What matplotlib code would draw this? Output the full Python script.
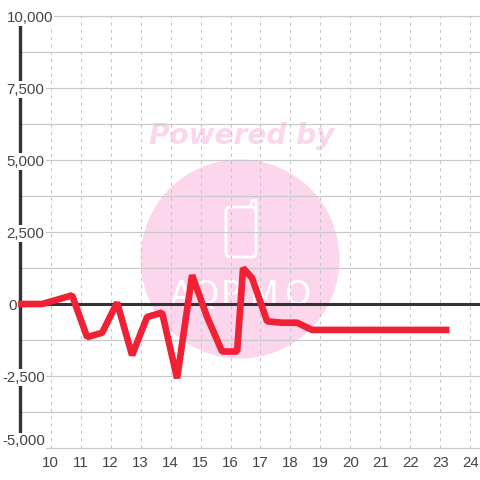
import matplotlib
matplotlib.use("Agg")
import matplotlib.pyplot as plt
from matplotlib.patches import Circle, FancyBboxPatch, Polygon

plt.rcParams['font.family'] = ['Liberation Sans', 'DejaVu Sans']

x_vals = [8.92, 9.72, 10.22, 10.72, 11.22, 11.72, 12.22, 12.72, 13.22, 13.72, 14.22, 14.72,
          15.22, 15.72, 16.22, 16.42, 16.72, 17.22, 17.72, 18.22, 18.72, 19.22, 20.22, 21.22,
          22.22, 23.3]
y_vals = [0, 0, 150, 300, -1150, -1000, 50, -1780, -450, -300, -2580, 1000,
          -450, -1650, -1650, 1250, 900, -600, -650, -650, -900, -900, -900, -900,
          -900, -900]
x_ticks = list(range(10, 25))
y_ticks = [10000, 7500, 5000, 2500, 0, -2500, -5000]
y_minor = [8750, 6250, 3750, 1250, -1250, -3750]
y_labels = ['10,000', '7,500', '5,000', '2,500', '0', '-2,500', '-5,000']
logo_letters = ['A', 'Q', 'P', 'M', 'O']
logo_x = [181, 205, 231, 264, 297]

W = 480.0
fig = plt.figure(figsize=(4.8, 4.8), dpi=100, facecolor='white')
ax = fig.add_axes([20 / W, 1 - 448 / W, 460 / W, 432 / W])
ax.patch.set_visible(False)
ax.set_xlim(8.983, 24.317)
ax.set_ylim(-5000, 10000)

# watermark sits behind the axes, positions in figure fractions
pink = '#fcd6ec'
fig.patches.append(Circle((240 / W, 1 - 259 / W), 99.5 / W, transform=fig.transFigure,
                          fc=pink, ec='none', zorder=-3))
fig.patches.append(FancyBboxPatch((226 / W, 1 - 257 / W), 30 / W, 50 / W,
                                  boxstyle='round,pad=0,rounding_size=0.01',
                                  transform=fig.transFigure, fc='none', ec='white', lw=2, zorder=-2))
fig.patches.append(Polygon([(250 / W, 1 - 207 / W), (252 / W, 1 - 200.5 / W), (256 / W, 1 - 200.5 / W),
                            (256 / W, 1 - 212 / W)], closed=False, transform=fig.transFigure,
                           fc='none', ec='white', lw=2, zorder=-2))
fig.text(242 / W, 1 - 144 / W, 'Powered by', color=pink, fontsize=20.2, fontweight='bold', fontstyle='italic',
         fontfamily='DejaVu Sans', ha='center', va='baseline', zorder=-2)
for letter, lx in zip(logo_letters, logo_x):
    fig.text(lx / W, 1 - 305 / W, letter, color='white', fontsize=24, fontfamily='Liberation Sans Narrow',
             ha='center', va='baseline', zorder=-2)

for yv in y_ticks + y_minor:
    if yv != 0:
        # bottom gridline starts after its label
        ax.axhline(yv, xmin=26 / 460 if yv == -5000 else 0, color='#c9c9c9', lw=0.9, zorder=1, clip_on=False)
for xv in x_ticks:
    ax.axvline(xv, color='#c4c4c4', lw=0.75, ls=(0, (3, 4)), zorder=1)

for name in ['top', 'right', 'bottom']:
    ax.spines[name].set_visible(False)
ax.spines['left'].set_linewidth(2.4)
ax.spines['left'].set_color('#333333')
ax.spines['left'].set_bounds(-4580, 9720)
ax.set_yticks([])
ax.set_xticks(x_ticks)
ax.tick_params(axis='x', length=0, pad=5.5, labelsize=10.8, labelcolor='#444444')

ax.axhline(0, color='#333333', lw=2.2, zorder=2)

trans = ax.get_yaxis_transform()
for yv, label in zip(y_ticks, y_labels):
    left = 2 if yv < 0 else (8 if yv == 0 else 6.5)
    # bottom label is lifted clear of the x labels
    lift = 5 if yv == -5000 else -1.2
    ax.annotate(label, xy=((left - 20) / 460, yv), xycoords=trans, xytext=(0, lift), textcoords='offset points',
                ha='left', va='center', fontsize=10.8, color='#444444', zorder=3,
                bbox=dict(fc='white', ec='none', pad=1.0) if yv != 0 else None)

ax.plot(x_vals, y_vals, color='#f02035', lw=4.8, solid_joinstyle='bevel', solid_capstyle='butt',
        zorder=4, clip_on=False)

fig.savefig('out.png', dpi=100)
